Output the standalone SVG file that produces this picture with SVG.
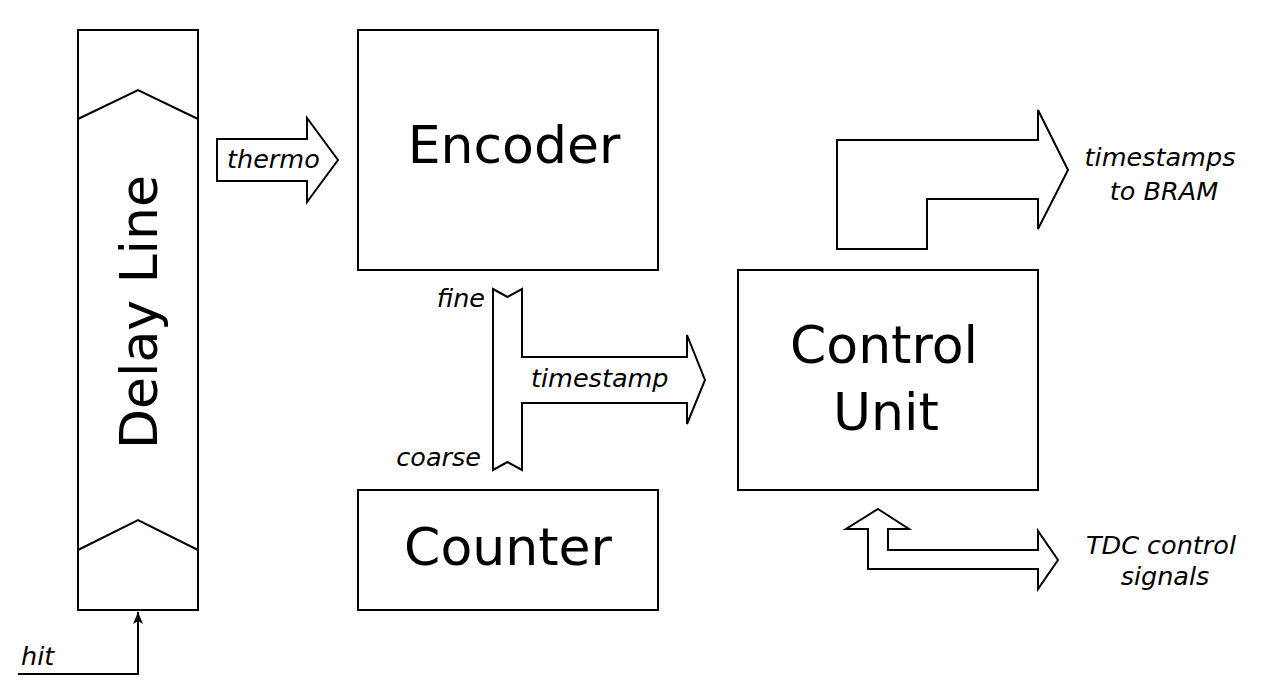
<svg xmlns="http://www.w3.org/2000/svg" width="1263" height="693" viewBox="0 0 1263 693">
<style>
.box{fill:#fff;stroke:#000;stroke-width:2}
.line{fill:none;stroke:#000;stroke-width:2}
.arr{fill:#fff;stroke:#000;stroke-width:2;stroke-linejoin:miter}
.big{font-family:"DejaVu Sans",Verdana,sans-serif;font-size:52px;fill:#000;text-anchor:middle}
.lbl{font-family:"DejaVu Sans",Verdana,sans-serif;font-size:25.5px;font-style:italic;fill:#000}
</style>
<defs>
<marker id="ah" viewBox="0 0 12 16" refX="12" refY="8" markerWidth="12" markerHeight="16" markerUnits="userSpaceOnUse" orient="auto">
<path d="M0,3 L12,8 L0,13 L3,8 Z" fill="#000"/>
</marker>
</defs>
<rect width="1263" height="693" fill="#fff"/>
<g id="delay-line">
<rect class="box" x="78" y="30" width="120" height="580" stroke="#222"/>
<polyline class="line" points="78,119 138,90 198,119"/>
<polyline class="line" points="78,550 138,520 198,550"/>
<text class="big" transform="translate(157,312) rotate(-90)">Delay Line</text>
</g>
<g id="encoder">
<rect class="box" x="358" y="30" width="300" height="240"/>
<text class="big" x="514" y="163">Encoder</text>
</g>
<g id="counter">
<rect class="box" x="358" y="490" width="300" height="120"/>
<text class="big" x="508" y="565">Counter</text>
</g>
<g id="control-unit">
<rect class="box" x="738" y="270" width="300" height="220"/>
<text class="big" x="884" y="363">Control</text>
<text class="big" x="886" y="430">Unit</text>
</g>
<g id="connectors">
<path class="line" d="M18,674 H138 V612" marker-end="url(#ah)"/>
<text class="lbl" x="21" y="665">hit</text>
<path class="arr" d="M217,139 H307 V118 L338,160 L307,202 V181 H217 Z"/>
<text class="lbl" x="227" y="168">thermo</text>
<path class="arr" d="M493,289 L507.5,297 L522,289 V357 H687 V335 L705,380 L687,424 V403 H522 V470 L507.5,462 L493,470 Z"/>
<text class="lbl" x="485" y="307" text-anchor="end">fine</text>
<text class="lbl" x="481" y="466" text-anchor="end">coarse</text>
<text class="lbl" x="531" y="387">timestamp</text>
<path class="arr" d="M837,140 H1038 V110 L1068,170 L1038,229 V199 H927 V249 H837 Z"/>
<text class="lbl" x="1160" y="166" text-anchor="middle">timestamps</text>
<text class="lbl" x="1164" y="200" text-anchor="middle">to BRAM</text>
<path class="arr" d="M878,509 L909,529 H888 V550 H1038 V531 L1058,560 L1038,589 V569 H868 V529 H846 Z"/>
<text class="lbl" x="1161" y="554" text-anchor="middle">TDC control</text>
<text class="lbl" x="1165" y="585" text-anchor="middle">signals</text>
</g>
</svg>
